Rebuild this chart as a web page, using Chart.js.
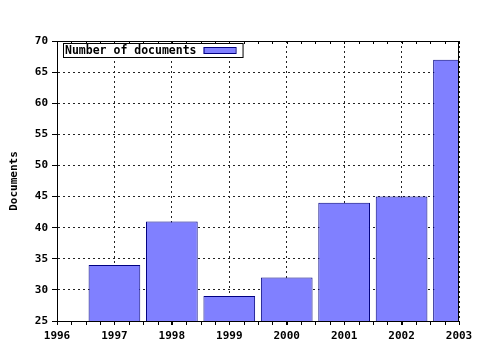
<!DOCTYPE html>
<html>
<head>
<meta charset="utf-8">
<script src="https://cdn.jsdelivr.net/npm/chart.js@4.4.0/dist/chart.umd.min.js"></script>
<style>
    html, body { margin: 0; padding: 0; background: #fff; }
    #caixa { width: 480px; height: 350px; }
</style>
</head>
<body>
<div id="caixa"><canvas id="myChart1"></canvas></div>
<script>
var anos = [1997, 1998, 1999, 2000, 2001, 2002, 2003];
var documentos = [34, 41, 29, 32, 44, 45, 67];
var nomeSerie = 'Number of documents';
var tituloY = 'Documents';

var fonte = { family: 'DejaVu Sans Mono', size: 11, weight: 'bold' };

// legenda e moldura desenhadas a mao, dentro da area do grafico
const moldura = {
    id: 'moldura',
    afterDraw(chart) {
        const ctx = chart.ctx;
        const area = chart.chartArea;
        const x = chart.scales.x;
        ctx.save();
        ctx.strokeStyle = '#000';
        ctx.lineWidth = 1;
        ctx.strokeRect(area.left + 0.5, area.top + 0.5, area.right - area.left - 1, area.bottom - area.top);

        // ticks menores no topo e embaixo
        ctx.beginPath();
        for (let v = x.min; v <= x.max + 0.001; v += 0.25) {
            const px = Math.round(x.getPixelForValue(v)) + 0.5;
            ctx.moveTo(px, area.top);
            ctx.lineTo(px, area.top + 3);
            ctx.moveTo(px, area.bottom);
            ctx.lineTo(px, area.bottom + 4);
        }
        ctx.stroke();

        // legenda
        const ds = chart.data.datasets[0];
        ctx.font = 'bold 11.5px "DejaVu Sans Mono"';
        const larguraTexto = ctx.measureText(ds.label).width;
        const lx = area.left + 6, ly = area.top + 2;
        const larg = larguraTexto + 48, alt = 14;
        ctx.fillStyle = '#fff';
        ctx.fillRect(lx, ly, larg, alt);
        ctx.strokeStyle = '#000';
        ctx.strokeRect(lx + 0.5, ly + 0.5, larg, alt);
        ctx.fillStyle = '#000';
        ctx.textBaseline = 'middle';
        ctx.fillText(ds.label, lx + 2, ly + alt / 2 + 1);
        ctx.fillStyle = ds.backgroundColor;
        ctx.fillRect(lx + larg - 39, ly + 4, 32, 7);
        ctx.strokeStyle = ds.borderColor;
        ctx.strokeRect(lx + larg - 38.5, ly + 4.5, 32, 6);
        ctx.restore();
    }
};

const ctx1 = document.getElementById('myChart1');

new Chart(ctx1, {
    type: 'bar',
    data: {
        datasets: [{
            label: nomeSerie,
            data: anos.map((a, i) => ({ x: a, y: documentos[i] })),
            backgroundColor: '#8080ff',
            borderColor: '#000080',
            borderWidth: 1,
            borderSkipped: false,
            barPercentage: 0.9,
            categoryPercentage: 1,
            clip: 0
        }]
    },
    options: {
        responsive: true,
        maintainAspectRatio: false,
        animation: false,
        layout: { padding: { left: 0, top: 41, right: 21, bottom: 0 } },
        plugins: {
            legend: { display: false },
            tooltip: { enabled: false }
        },
        scales: {
            x: {
                type: 'linear',
                min: 1996,
                max: 2003,
                offset: false,
                ticks: { stepSize: 1, color: '#000', font: fonte, padding: 5, maxRotation: 0,
                    callback: v => String(v) },
                grid: { offset: false, color: '#222', tickColor: '#000', tickLength: 4, tickBorderDash: [] },
                border: { color: '#000', dash: [2, 3] },
                afterFit(s) { s.height = 29; }
            },
            y: {
                min: 25,
                max: 70,
                ticks: { stepSize: 5, color: '#000', font: fonte, padding: 4 },
                grid: { color: '#222', tickColor: '#000', tickLength: 5, tickBorderDash: [] },
                border: { color: '#000', dash: [2, 3] },
                title: { display: true, text: tituloY, color: '#000', font: fonte, padding: { top: 8, bottom: 0 } },
                afterFit(s) { s.width = 57; }
            }
        }
    },
    plugins: [moldura]
});
</script>
</body>
</html>
